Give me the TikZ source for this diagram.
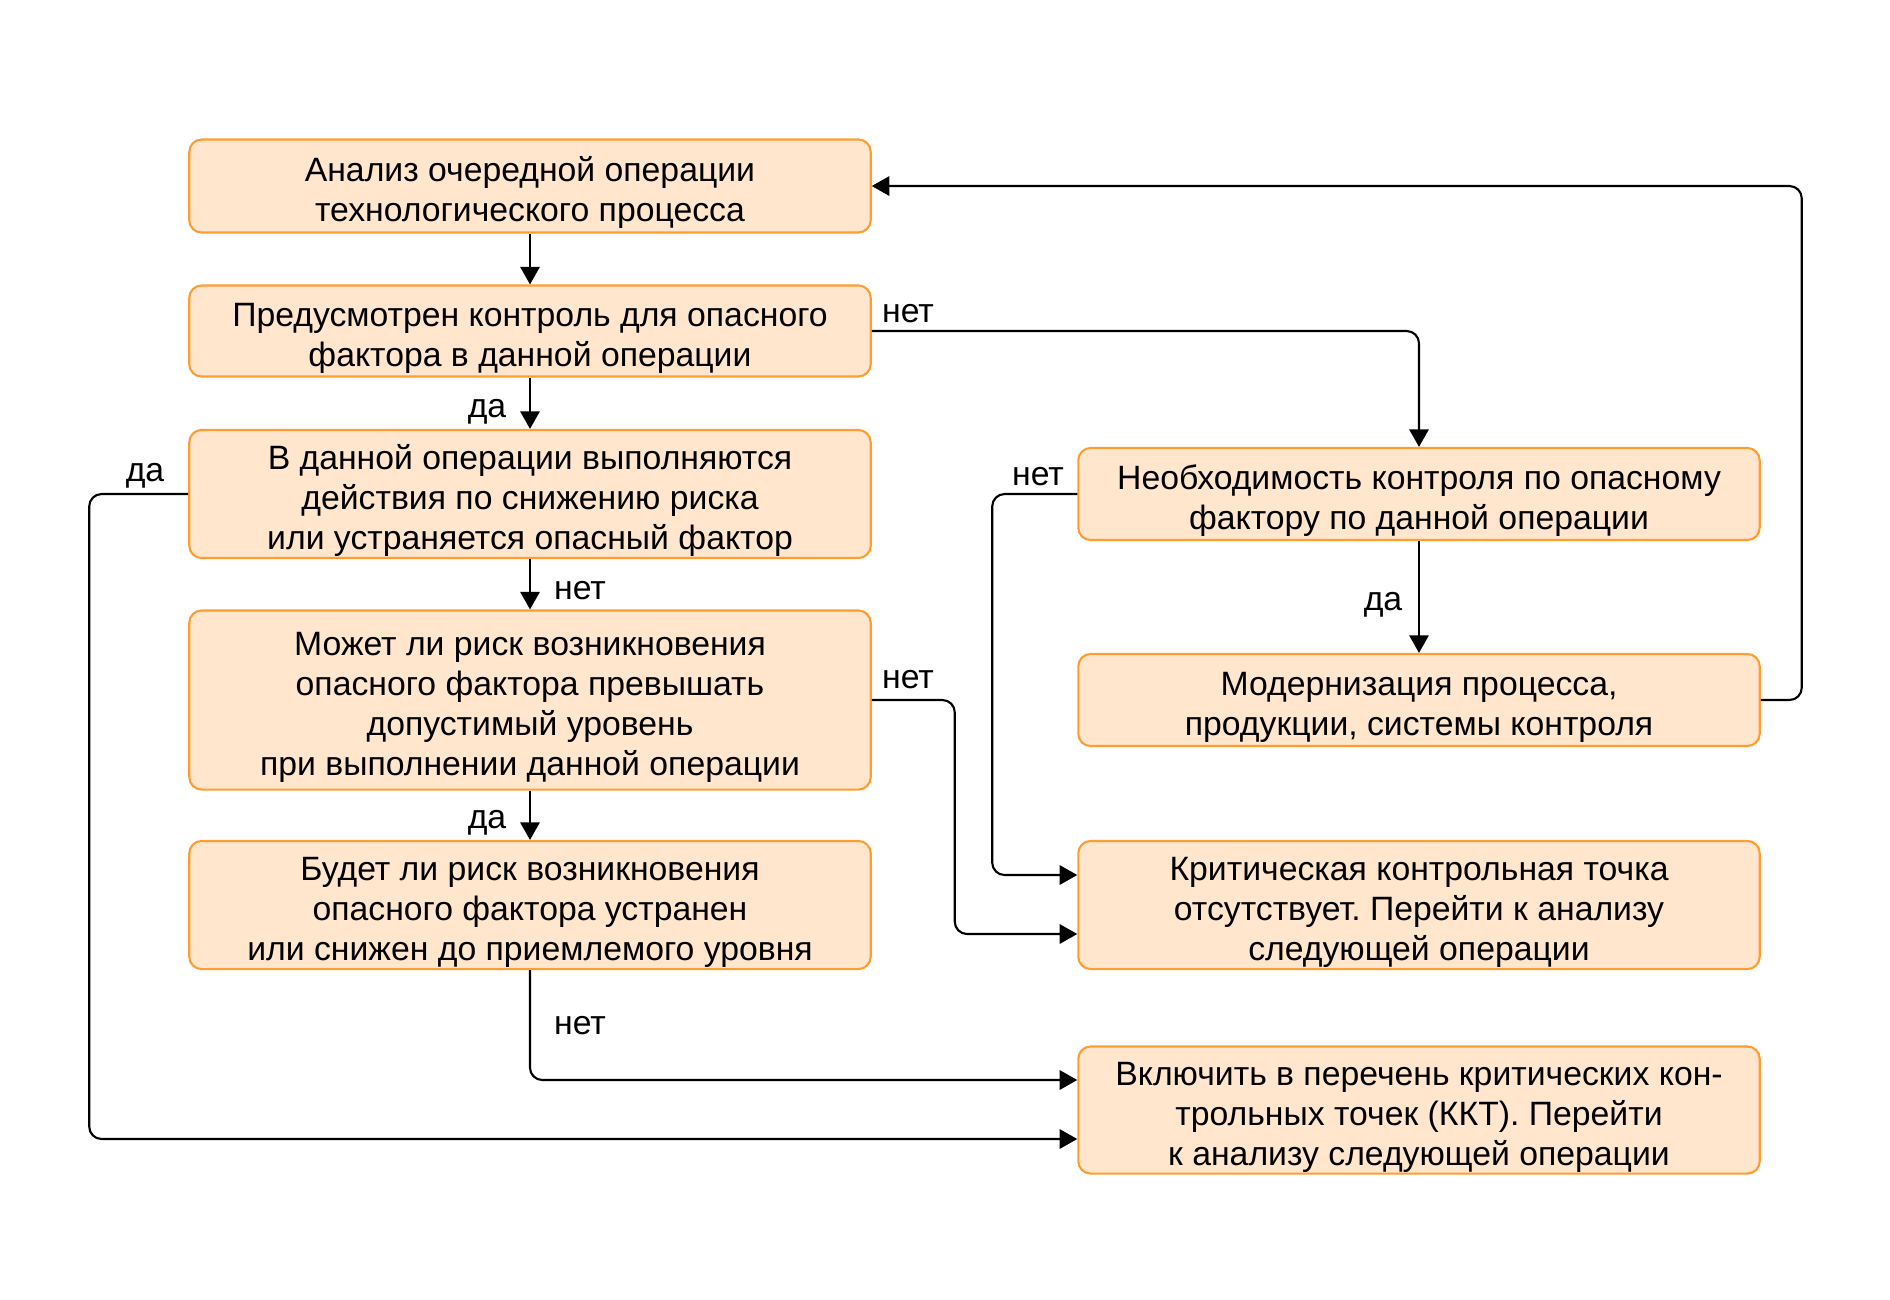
\documentclass[tikz,border=0pt]{standalone}
\usepackage{fontspec}
\setmainfont{Liberation Sans}
\usetikzlibrary{arrows.meta,calc}
\definecolor{boxfill}{HTML}{FFE6CC}
\definecolor{boxline}{HTML}{FF9D33}
\frenchspacing
\begin{document}
\begin{tikzpicture}[x=0.01cm,y=-0.01cm,
	box/.style={draw=boxline,fill=boxfill,line width=0.6pt,rounded corners=3.5pt,text width=6.81cm,align=flush center,inner sep=0pt,font=\fontsize{9.6}{11.4}\selectfont,
		execute at begin node={\rule{0pt}{11pt}},execute at end node={\rule[-2pt]{0pt}{0pt}}},
	lbl/.style={font=\fontsize{9.6}{11.4}\selectfont,inner sep=1pt},
	arr/.style={-{Triangle[length=5pt,width=5.5pt]},line width=0.6pt,rounded corners=3.5pt}]
	\useasboundingbox (0,0) rectangle (1890,1299);
	% left column
	\node[box,minimum height=0.93cm] (b1) at (530,186) {Анализ очередной операции\\технологического процесса};
	\node[box,minimum height=0.91cm] (b2) at (530,331) {Предусмотрен контроль для опасного\\фактора в данной операции};
	\node[box,minimum height=1.28cm] (b3) at (530,494) {В данной операции выполняются\\действия по снижению риска\\или устраняется опасный фактор};
	\node[box,minimum height=1.79cm] (b4) at (530,700) {Может ли риск возникновения\\опасного фактора превышать\\допустимый уровень\\при выполнении данной операции};
	\node[box,minimum height=1.28cm] (b5) at (530,905) {Будет ли риск возникновения\\опасного фактора устранен\\или снижен до приемлемого уровня};
	% right column
	\node[box,minimum height=0.92cm] (r1) at (1419,494) {Необходимость контроля по опасному\\фактору по данной операции};
	\node[box,minimum height=0.92cm] (r2) at (1419,700) {Модернизация процесса,\\продукции, системы контроля};
	\node[box,minimum height=1.28cm] (r3) at (1419,905) {Критическая контрольная точка\\отсутствует. Перейти к анализу\\следующей операции};
	\node[box,minimum height=1.27cm] (r4) at (1419,1110) {Включить в перечень критических кон-\\трольных точек (ККТ). Перейти\\к анализу следующей операции};
	% connectors
	\draw[arr] (b1) -- (b2);
	\draw[arr] (b2) -- (b3);
	\draw[arr] (b3) -- (b4);
	\draw[arr] (b4) -- (b5);
	\draw[arr] (r1) -- (r2);
	\draw[arr] (b2.east) -| (r1.north);
	\draw[arr] (b3.west) -- ++(-99,0) |- ($(r4.west)+(0,29)$);
	\draw[arr] (b4.east) -- ++(83,0) |- ($(r3.west)+(0,29)$);
	\draw[arr] (b5.south) |- ($(r4.west)+(0,-30)$);
	\draw[arr] (r1.west) -- ++(-85,0) |- ($(r3.west)+(0,-30)$);
	\draw[arr] (r2.east) -- ++(41,0) |- (b1.east);
	% labels
	\node[lbl] (l1) at (908,314) {нет};
	\node[lbl] (l2) at (487,412) {да};
	\node[lbl] (l3) at (580,591) {нет};
	\node[lbl] (l4) at (145,476) {да};
	\node[lbl] (l5) at (908,680) {нет};
	\node[lbl] (l6) at (487,823) {да};
	\node[lbl] (l7) at (580,1026) {нет};
	\node[lbl] (l8) at (1038,477) {нет};
	\node[lbl] (l9) at (1383,605) {да};
\end{tikzpicture}
\end{document}
